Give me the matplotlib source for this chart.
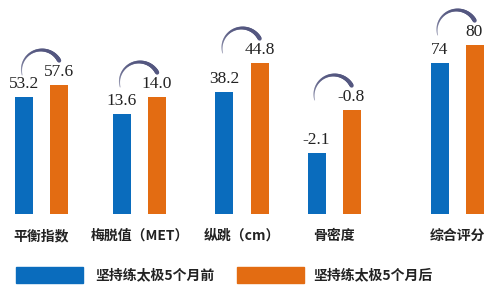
import numpy as np
import matplotlib
matplotlib.use("Agg")
import matplotlib.pyplot as plt
from matplotlib.collections import LineCollection
from matplotlib.patches import Rectangle

plt.rcParams['font.family'] = ['Noto Sans CJK SC', 'DejaVu Sans']

# ---- data ----
categories = ["平衡指数", "梅脱值（MET）", "纵跳（cm）", "骨密度", "综合评分"]
before_labels = ["53.2", "13.6", "38.2", "-2.1", "74"]
after_labels = ["57.6", "14.0", "44.8", "-0.8", "80"]
# bar heights as drawn in the picture (the chart is illustrative, not to scale)
before_heights = [117, 100, 122, 61, 151]
after_heights = [129, 117, 151, 104, 169]
legend_labels = ["坚持练太极5个月前", "坚持练太极5个月后"]

# ---- layout ----
W, H = 500, 292
fig = plt.figure(figsize=(W / 100, H / 100), dpi=100)
fig.patch.set_facecolor("white")
base_px = 214  # bar base from top
ax = fig.add_axes([0, (H - base_px) / H, 1, base_px / H])
xunit = 100.0  # px per x unit
x0 = 41.5
ax.set_xlim(-x0 / xunit, (W - x0) / xunit)
ax.set_ylim(0, base_px)
ax.axis("off")

group_x = np.array([0, 0.98, 2.005, 2.925, 4.155])
offset = 0.175
bw = 0.18
blue = "#0a6cbd"
orange = "#e36c12"

ax.bar(group_x - offset, before_heights, width=bw, color=blue)
ax.bar(group_x + offset, after_heights, width=bw, color=orange)

for gx, hb, ha_, lb, la in zip(group_x, before_heights, after_heights,
                                before_labels, after_labels):
    ax.text(gx - offset, hb + 5, lb, ha="center", va="bottom",
            fontsize=12.5, family="Liberation Serif", color="#222222")
    ax.text(gx + offset, ha_ + 5, la, ha="center", va="bottom",
            fontsize=12.5, family="Liberation Serif", color="#222222")
    # curved arrow-like arc
    cy = max(hb, ha_) + 15
    r = 20
    t = np.linspace(np.radians(195), np.radians(28), 60)
    xs = gx + r * np.cos(t) / xunit
    ys = cy + r * np.sin(t)
    pts = np.column_stack([xs, ys]).reshape(-1, 1, 2)
    segs = np.concatenate([pts[:-1], pts[1:]], axis=1)
    n = len(segs)
    widths = np.linspace(0.6, 3.0, n)
    cols = [(0.33, 0.34, 0.50, a) for a in np.linspace(0.4, 1.0, n)]
    lc = LineCollection(segs, linewidths=widths, colors=cols, capstyle="round")
    ax.add_collection(lc)

for gx, cat in zip(group_x, categories):
    ax.text(gx, -22, cat, ha="center", va="center", fontsize=10,
            fontweight="bold", color="#222222", clip_on=False)

# legend
def fx(px):
    return px / W

def fy(py):
    return (H - py) / H

fig.patches.append(Rectangle((fx(16), fy(283)), fx(83) - fx(16), fy(267) - fy(283),
                             transform=fig.transFigure, color=blue))
fig.text(fx(95), fy(275), legend_labels[0], ha="left", va="center",
         fontsize=10, fontweight="bold", color="#222222")
fig.patches.append(Rectangle((fx(237), fy(283)), fx(304) - fx(237), fy(267) - fy(283),
                             transform=fig.transFigure, color=orange))
fig.text(fx(313), fy(275), legend_labels[1], ha="left", va="center",
         fontsize=10, fontweight="bold", color="#222222")

fig.savefig("out.png", dpi=100)
